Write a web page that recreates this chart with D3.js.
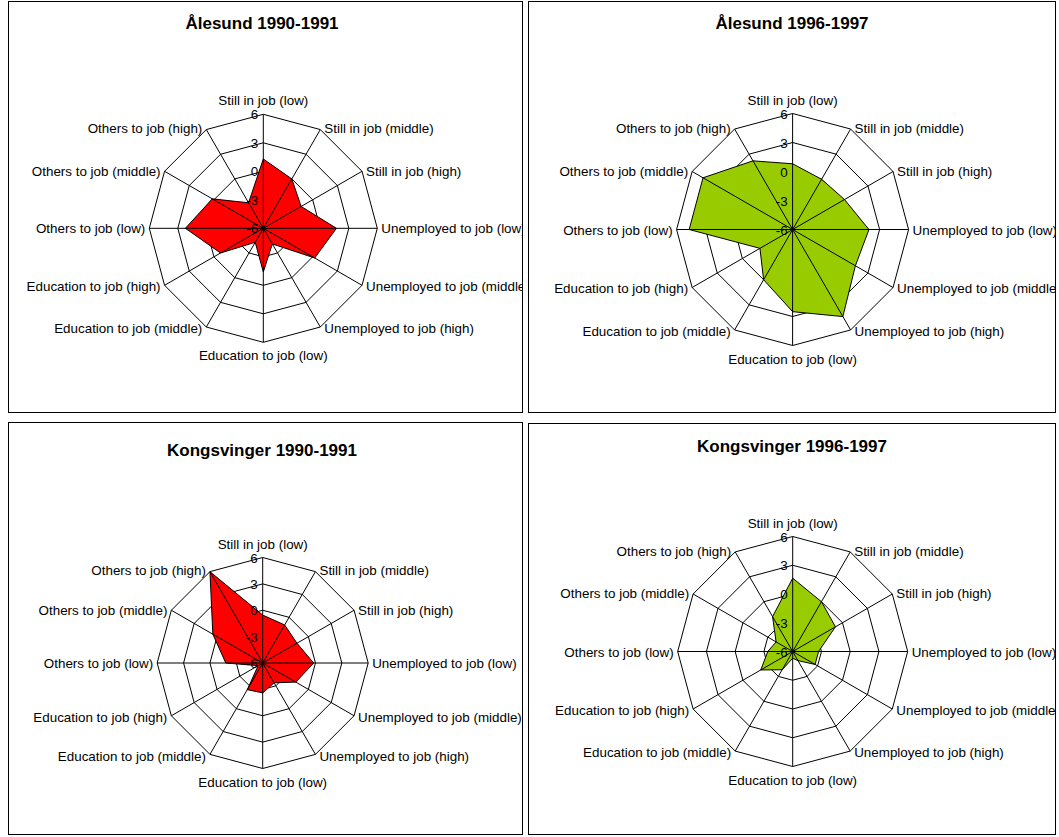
<!DOCTYPE html>
<html><head><meta charset="utf-8">
<script src="https://cdn.jsdelivr.net/npm/d3@7/dist/d3.min.js"></script>
<style>
html,body{margin:0;padding:0;background:#fff;}
svg{display:block;font-family:"Liberation Sans",Arial,sans-serif;}
</style></head>
<body>
<svg id="chart" width="1059" height="837"></svg>
<script>
const categories = [
  "Still in job (low)", "Still in job (middle)", "Still in job (high)",
  "Unemployed to job (low)", "Unemployed to job (middle)", "Unemployed to job (high)",
  "Education to job (low)", "Education to job (middle)", "Education to job (high)",
  "Others to job (low)", "Others to job (middle)", "Others to job (high)"
];
const tickValues = [-6, -3, 0, 3, 6];
const tickLabels = ["-6", "-3", "0", "3", "6"];
const titles = ["Ålesund 1990-1991", "Ålesund 1996-1997", "Kongsvinger 1990-1991", "Kongsvinger 1996-1997"];
const alesund1990 = [1.3, 0.0, -1.4, 1.7, 0.25, -4.1, -1.4, -4.3, -0.8, 2.2, 0.2, -2.9];
const alesund1996 = [0.8, 0.0, 0.2, 1.9, 1.5, 4.4, 2.5, 0.0, -2.1, 4.7, 4.7, 2.2];
const kongsvinger1990 = [-0.55, -1.0, -1.5, -0.2, -1.65, -3.4, -2.6, -2.5, -5.4, -1.8, 0.55, 6.0];
const kongsvinger1996 = [1.65, 0.0, -0.85, -3.3, -3.3, -4.9, -5.3, -3.8, -2.15, -3.4, -4.0, -1.8];
const colors = ["#FF0000", "#99CC00", "#FF0000", "#99CC00"];

const panels = [
  {fx: 8, fy: 1, fw: 515, fh: 412, cx: 263.3, cy: 228.3, R: 114, tx: 262, ty: 29, data: alesund1990},
  {fx: 528, fy: 1, fw: 528, fh: 412, cx: 792.6, cy: 229.5, R: 116, tx: 792, ty: 29, data: alesund1996},
  {fx: 8, fy: 422, fw: 515, fh: 413, cx: 262.7, cy: 663, R: 105.5, tx: 262, ty: 456, data: kongsvinger1990},
  {fx: 528, fy: 423, fw: 528, fh: 412, cx: 792.7, cy: 651.5, R: 115, tx: 792, ty: 452, data: kongsvinger1996}
];

const svg = d3.select("#chart");
const n = categories.length;
const angle = d3.scaleLinear().domain([0, n]).range([0, 2 * Math.PI]);

panels.forEach((p, pi) => {
  const clipId = "clip" + pi;
  svg.append("clipPath").attr("id", clipId)
    .append("rect").attr("x", p.fx).attr("y", p.fy).attr("width", p.fw).attr("height", p.fh);
  const outer = svg.append("g").attr("clip-path", `url(#${clipId})`);
  outer.append("rect").attr("x", p.fx + 0.5).attr("y", p.fy + 0.5)
    .attr("width", p.fw - 1).attr("height", p.fh - 1)
    .attr("fill", "#fff").attr("stroke", "#000").attr("stroke-width", 1);

  outer.append("text").attr("x", p.tx).attr("y", p.ty)
    .attr("text-anchor", "middle").attr("font-size", 17).attr("font-weight", "bold")
    .text(titles[pi]);

  const r = d3.scaleLinear().domain([-6, 6]).range([0, p.R]);
  const g = outer.append("g").attr("transform", `translate(${p.cx},${p.cy})`);
  const pt = (i, v) => [r(v) * Math.sin(angle(i)), -r(v) * Math.cos(angle(i))];

  // rings
  tickValues.slice(1).forEach(t => {
    const pts = d3.range(n).map(i => pt(i, t));
    g.append("path").attr("d", d3.line().curve(d3.curveLinearClosed)(pts))
      .attr("fill", "none").attr("stroke", "#000").attr("stroke-width", 1);
  });

  // data polygon
  const dpts = p.data.map((v, i) => pt(i, v));
  g.append("path").attr("d", d3.line().curve(d3.curveLinearClosed)(dpts))
    .attr("fill", colors[pi]).attr("stroke", "#000").attr("stroke-width", 1)
    .attr("stroke-linejoin", "miter");

  // spokes
  d3.range(n).forEach(i => {
    const [x, y] = pt(i, 6);
    g.append("line").attr("x1", 0).attr("y1", 0).attr("x2", x).attr("y2", y)
      .attr("stroke", "#000").attr("stroke-width", 1);
  });

  // category labels
  categories.forEach((c, i) => {
    const a = angle(i);
    const [x, y] = pt(i, 6);
    const s = Math.sin(a), co = Math.cos(a);
    let anchor = "middle", tx = x, ty = y;
    if (Math.abs(s) < 0.01) {
      if (co > 0) { ty = y - 9; } else { ty = y + 18; }
    } else {
      anchor = s > 0 ? "start" : "end";
      tx = x + (s > 0 ? 4 : -4);
      ty = y + 5 - co * 1.5;
    }
    g.append("text").attr("x", tx).attr("y", ty).attr("text-anchor", anchor)
      .attr("font-size", 13.4).text(c);
  });

  // radial tick labels
  tickValues.forEach((t, k) => {
    g.append("text").attr("x", -5).attr("y", -r(t) + 5)
      .attr("text-anchor", "end").attr("font-size", 13.4).text(tickLabels[k]);
  });
});
</script>
</body></html>
